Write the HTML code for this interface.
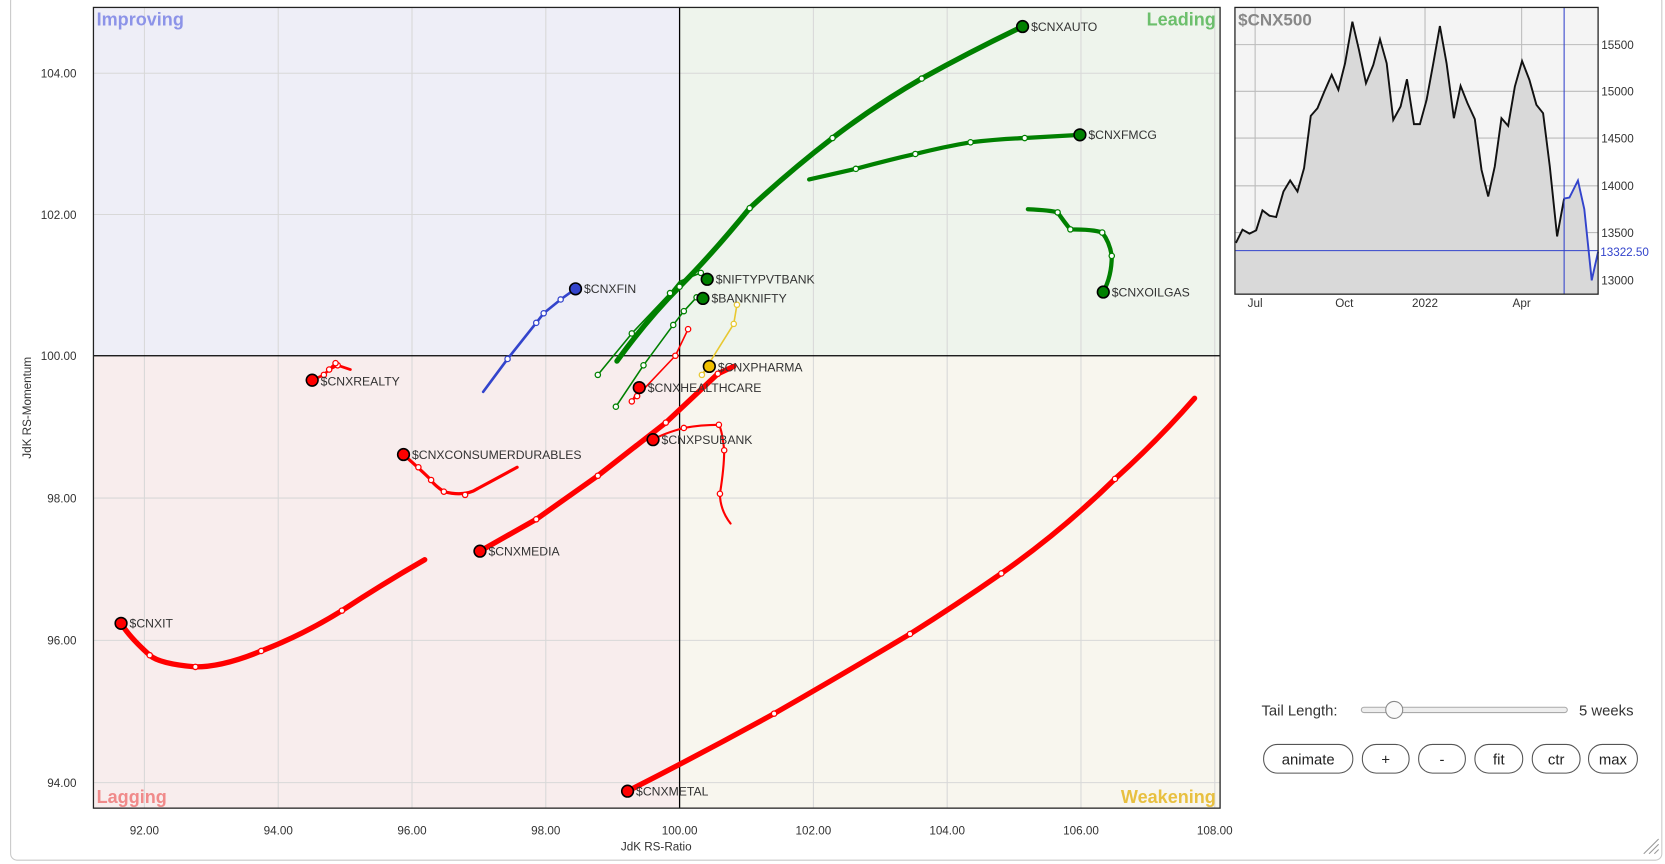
<!DOCTYPE html>
<html><head><meta charset="utf-8"><style>
html,body{margin:0;padding:0;background:#fff;}
svg{display:block;font-family:"Liberation Sans",Arial,sans-serif;}
</style></head><body>
<svg width="1665" height="864" viewBox="0 0 1568 813.6" preserveAspectRatio="none" xmlns="http://www.w3.org/2000/svg">
<rect x="10" y="-5" width="1555" height="815" rx="6" fill="#fff" stroke="#c8c8c8"/>
<!-- quadrants -->
<rect x="88" y="7" width="552" height="328" fill="#eeeef7"/>
<rect x="640" y="7" width="509" height="328" fill="#eef4ec"/>
<rect x="88" y="335" width="552" height="426" fill="#f8eded"/>
<rect x="640" y="335" width="509" height="426" fill="#f8f6ee"/>
<g stroke="#d8d8d8" stroke-width="1">
<line x1="136" y1="7" x2="136" y2="761"/><line x1="262" y1="7" x2="262" y2="761"/><line x1="388" y1="7" x2="388" y2="761"/><line x1="514" y1="7" x2="514" y2="761"/><line x1="766" y1="7" x2="766" y2="761"/><line x1="892" y1="7" x2="892" y2="761"/><line x1="1018" y1="7" x2="1018" y2="761"/><line x1="1144" y1="7" x2="1144" y2="761"/>
<line x1="88" y1="69" x2="1149" y2="69"/><line x1="88" y1="202" x2="1149" y2="202"/><line x1="88" y1="469" x2="1149" y2="469"/><line x1="88" y1="603" x2="1149" y2="603"/><line x1="88" y1="737" x2="1149" y2="737"/>
</g>
<line x1="640" y1="7" x2="640" y2="761" stroke="#000" stroke-width="1.2"/>
<line x1="88" y1="335" x2="1149" y2="335" stroke="#000" stroke-width="1.2"/>
<rect x="88" y="7" width="1061" height="754" fill="none" stroke="#222" stroke-width="1.2"/>
<g font-size="17" font-weight="bold">
<text x="91" y="24" fill="#8c93e8">Improving</text>
<text x="1145" y="24" fill="#6cbf6c" text-anchor="end">Leading</text>
<text x="91" y="756" fill="#f08a8a">Lagging</text>
<text x="1145" y="756" fill="#e8c040" text-anchor="end">Weakening</text>
</g>
<g font-size="11" fill="#333">
<text x="136" y="786" text-anchor="middle">92.00</text><text x="262" y="786" text-anchor="middle">94.00</text><text x="388" y="786" text-anchor="middle">96.00</text><text x="514" y="786" text-anchor="middle">98.00</text><text x="640" y="786" text-anchor="middle">100.00</text><text x="766" y="786" text-anchor="middle">102.00</text><text x="892" y="786" text-anchor="middle">104.00</text><text x="1018" y="786" text-anchor="middle">106.00</text><text x="1144" y="786" text-anchor="middle">108.00</text>
<text x="72" y="73" text-anchor="end">104.00</text><text x="72" y="206" text-anchor="end">102.00</text><text x="72" y="339" text-anchor="end">100.00</text><text x="72" y="473" text-anchor="end">98.00</text><text x="72" y="607" text-anchor="end">96.00</text><text x="72" y="741" text-anchor="end">94.00</text>
<text x="618" y="801" text-anchor="middle">JdK RS-Ratio</text>
<text transform="translate(29,384) rotate(-90)" text-anchor="middle">JdK RS-Momentum</text>
</g>
<g fill="none" stroke-linecap="round" stroke-linejoin="round">
<path d="M581,340 Q610,300 640,270 T706,196 Q745,160 784,130 T868,74 Q915,48 963,25" stroke="#008000" stroke-width="5"/>
<path d="M762,169 L806,159 Q835,151 862,145 Q890,138 914,134 Q940,131 965,130 L1017,127" stroke="#008000" stroke-width="4"/>
<path d="M968,197 Q990,198 996,200 Q1003,210 1008,216 Q1030,216 1038,219 Q1045,228 1047,241 Q1047,260 1039,275" stroke="#008000" stroke-width="4"/>
<path d="M563,353 L595,314 L631,276 L640,265 L660,257 L666,263" stroke="#008000" stroke-width="1.5"/>
<path d="M580,383 L606,344 L634,306 L644,293 L656,280 L662,281" stroke="#008000" stroke-width="1.5"/>
<path d="M648,310 L636,335 L600,373 L595,378 L602,365" stroke="#ff0000" stroke-width="1.5"/>
<path d="M694,287 L691,305 L661,353 L668,345" stroke="#e8c830" stroke-width="1.5"/>
<path d="M455,369 L478,338 L505,304 L512,295 L528,282 L542,272" stroke="#3344cc" stroke-width="2.5"/>
<path d="M330,348 L318,344 L310,348 L316,342 L305,353 L294,358" stroke="#ff0000" stroke-width="2.5"/>
<path d="M487,440 Q465,452 450,460 Q438,468 418,463 Q408,456 406,452 Q398,444 380,428" stroke="#ff0000" stroke-width="3"/>
<path d="M691,345 L676,352 L627,398 L563,448 L505,489 L452,519" stroke="#ff0000" stroke-width="5"/>
<path d="M688,493 Q678,480 678,465 Q682,440 682,424 Q680,405 677,400 Q660,400 644,403 Q625,408 615,414" stroke="#ff0000" stroke-width="2"/>
<path d="M400,527 Q360,550 322,575 Q285,598 246,613 Q210,628 184,628 Q150,625 141,617 Q122,600 114,587" stroke="#ff0000" stroke-width="5"/>
<path d="M1125,375 Q1090,415 1050,451 Q1000,500 943,540 Q900,570 857,597 Q790,637 729,672 Q660,710 591,745" stroke="#ff0000" stroke-width="5"/>
</g>
<g fill="#fff" stroke-width="1.2">
<g stroke="#008000"><circle cx="706" cy="196" r="2.5"/><circle cx="784" cy="130" r="2.5"/><circle cx="868" cy="74" r="2.5"/><circle cx="640" cy="270" r="2.5"/>
<circle cx="806" cy="159" r="2.5"/><circle cx="862" cy="145" r="2.5"/><circle cx="914" cy="134" r="2.5"/><circle cx="965" cy="130" r="2.5"/>
<circle cx="996" cy="200" r="2.5"/><circle cx="1008" cy="216" r="2.5"/><circle cx="1038" cy="219" r="2.5"/><circle cx="1047" cy="241" r="2.5"/>
<circle cx="563" cy="353" r="2.5"/><circle cx="595" cy="314" r="2.5"/><circle cx="631" cy="276" r="2.5"/><circle cx="660" cy="257" r="2.5"/>
<circle cx="580" cy="383" r="2.5"/><circle cx="606" cy="344" r="2.5"/><circle cx="634" cy="306" r="2.5"/><circle cx="644" cy="293" r="2.5"/><circle cx="656" cy="280" r="2.5"/></g>
<g stroke="#ff0000"><circle cx="648" cy="310" r="2.5"/><circle cx="636" cy="335" r="2.5"/><circle cx="600" cy="373" r="2.5"/><circle cx="595" cy="378" r="2.5"/>
<circle cx="318" cy="344" r="2.5"/><circle cx="310" cy="348" r="2.5"/><circle cx="316" cy="342" r="2.5"/><circle cx="305" cy="353" r="2.5"/>
<circle cx="418" cy="463" r="2.5"/><circle cx="438" cy="466" r="2.5"/><circle cx="406" cy="452" r="2.5"/><circle cx="394" cy="440" r="2.5"/>
<circle cx="676" cy="352" r="2.5"/><circle cx="627" cy="398" r="2.5"/><circle cx="563" cy="448" r="2.5"/><circle cx="505" cy="489" r="2.5"/>
<circle cx="678" cy="465" r="2.5"/><circle cx="682" cy="424" r="2.5"/><circle cx="677" cy="400" r="2.5"/><circle cx="644" cy="403" r="2.5"/>
<circle cx="322" cy="575" r="2.5"/><circle cx="246" cy="613" r="2.5"/><circle cx="184" cy="628" r="2.5"/><circle cx="141" cy="617" r="2.5"/>
<circle cx="1050" cy="451" r="2.5"/><circle cx="943" cy="540" r="2.5"/><circle cx="857" cy="597" r="2.5"/><circle cx="729" cy="672" r="2.5"/></g>
<g stroke="#e8c830"><circle cx="694" cy="287" r="2.5"/><circle cx="691" cy="305" r="2.5"/><circle cx="661" cy="353" r="2.5"/></g>
<g stroke="#3344cc"><circle cx="478" cy="338" r="2.5"/><circle cx="505" cy="304" r="2.5"/><circle cx="512" cy="295" r="2.5"/><circle cx="528" cy="282" r="2.5"/></g>
</g>
<g stroke="#000" stroke-width="1.5">
<circle cx="963" cy="25" r="5.5" fill="#008000"/><circle cx="1017" cy="127" r="5.5" fill="#008000"/><circle cx="1039" cy="275" r="5.5" fill="#008000"/>
<circle cx="666" cy="263" r="5.5" fill="#008000"/><circle cx="662" cy="281" r="5.5" fill="#008000"/>
<circle cx="542" cy="272" r="5.5" fill="#3344cc"/><circle cx="668" cy="345" r="5.5" fill="#f0c000"/>
<circle cx="602" cy="365" r="5.5" fill="#ff0000"/><circle cx="294" cy="358" r="5.5" fill="#ff0000"/><circle cx="380" cy="428" r="5.5" fill="#ff0000"/>
<circle cx="615" cy="414" r="5.5" fill="#ff0000"/><circle cx="452" cy="519" r="5.5" fill="#ff0000"/><circle cx="114" cy="587" r="5.5" fill="#ff0000"/><circle cx="591" cy="745" r="5.5" fill="#ff0000"/>
</g>
<g font-size="11.5" fill="#333">
<text x="971" y="29">$CNXAUTO</text><text x="1025" y="131">$CNXFMCG</text><text x="1047" y="279">$CNXOILGAS</text>
<text x="674" y="267">$NIFTYPVTBANK</text><text x="670" y="285">$BANKNIFTY</text><text x="550" y="276">$CNXFIN</text>
<text x="676" y="350">$CNXPHARMA</text><text x="610" y="369">$CNXHEALTHCARE</text><text x="302" y="363">$CNXREALTY</text>
<text x="388" y="432">$CNXCONSUMERDURABLES</text><text x="623" y="418">$CNXPSUBANK</text><text x="460" y="523">$CNXMEDIA</text>
<text x="122" y="591">$CNXIT</text><text x="599" y="749">$CNXMETAL</text>
</g>
<!-- mini chart -->
<rect x="1163" y="7" width="342" height="270" fill="#f4f4f4"/>
<g stroke="#bbb" stroke-width="1">
<line x1="1182" y1="7" x2="1182" y2="277"/><line x1="1266" y1="7" x2="1266" y2="277"/><line x1="1342" y1="7" x2="1342" y2="277"/><line x1="1433" y1="7" x2="1433" y2="277"/>
<line x1="1163" y1="42" x2="1505" y2="42"/><line x1="1163" y1="86" x2="1505" y2="86"/><line x1="1163" y1="130" x2="1505" y2="130"/><line x1="1163" y1="175" x2="1505" y2="175"/><line x1="1163" y1="219" x2="1505" y2="219"/><line x1="1163" y1="264" x2="1505" y2="264"/>
</g>
<path d="M1163.9,228.8 L1170.1,216.3 L1176.7,220 L1183,216.9 L1188.9,198.1 L1195.5,203.1 L1201.8,204.4 L1208.7,180.3 L1215,169.9 L1221.9,180.3 L1228.1,158.3 L1234.4,109.1 L1240.7,101.9 L1247.2,86.2 L1254.1,70.5 L1260.4,84.6 L1266.7,59.6 L1273.6,20.4 L1279.8,47 L1286.4,78.4 L1293.3,61.1 L1299.6,37 L1305.9,59.6 L1312.1,112.9 L1319,100.3 L1325,74.6 L1331.6,116.9 L1337.2,116.9 L1343.5,94 L1349.8,59.6 L1356,24.5 L1362.3,59.6 L1369.2,111.3 L1375.5,80.9 L1382,97.2 L1388.9,112.2 L1395.2,159.9 L1401.5,185 L1407.7,156.7 L1414,111.3 L1420.3,118.5 L1426.6,81.5 L1433.4,57.4 L1440.3,75.2 L1446.9,98.7 L1453.2,106.6 L1459.5,156.7 L1466.4,222.6 L1473,187 L1478,186 L1486,170 L1492,197 L1499,264 L1505,237 L1505,277 L1163,277 Z" fill="#d9d9d9"/>
<path d="M1163.9,228.8 L1170.1,216.3 L1176.7,220 L1183,216.9 L1188.9,198.1 L1195.5,203.1 L1201.8,204.4 L1208.7,180.3 L1215,169.9 L1221.9,180.3 L1228.1,158.3 L1234.4,109.1 L1240.7,101.9 L1247.2,86.2 L1254.1,70.5 L1260.4,84.6 L1266.7,59.6 L1273.6,20.4 L1279.8,47 L1286.4,78.4 L1293.3,61.1 L1299.6,37 L1305.9,59.6 L1312.1,112.9 L1319,100.3 L1325,74.6 L1331.6,116.9 L1337.2,116.9 L1343.5,94 L1349.8,59.6 L1356,24.5 L1362.3,59.6 L1369.2,111.3 L1375.5,80.9 L1382,97.2 L1388.9,112.2 L1395.2,159.9 L1401.5,185 L1407.7,156.7 L1414,111.3 L1420.3,118.5 L1426.6,81.5 L1433.4,57.4 L1440.3,75.2 L1446.9,98.7 L1453.2,106.6 L1459.5,156.7 L1466.4,222.6 L1473,187" fill="none" stroke="#111" stroke-width="1.8"/>
<path d="M1473,187 L1478,186 L1486,170 L1492,197 L1499,264 L1505,237" fill="none" stroke="#3344cc" stroke-width="1.8"/>
<line x1="1163" y1="236" x2="1505" y2="236" stroke="#3344cc" stroke-width="1"/>
<line x1="1473" y1="7" x2="1473" y2="277" stroke="#3344cc" stroke-width="1"/>
<rect x="1163" y="7" width="342" height="270" fill="none" stroke="#222" stroke-width="1.2"/>
<text x="1166" y="24" font-size="16" font-weight="bold" fill="#888">$CNX500</text>
<g font-size="11" fill="#333">
<text x="1508" y="46">15500</text><text x="1508" y="90">15000</text><text x="1508" y="134">14500</text><text x="1508" y="179">14000</text><text x="1508" y="223">13500</text><text x="1508" y="268">13000</text>
<text x="1507" y="241" fill="#3344cc">13322.50</text>
<text x="1182" y="289" text-anchor="middle">Jul</text><text x="1266" y="289" text-anchor="middle">Oct</text><text x="1342" y="289" text-anchor="middle">2022</text><text x="1433" y="289" text-anchor="middle">Apr</text>
</g>
<!-- controls -->
<text x="1188" y="674" font-size="14" fill="#333">Tail Length:</text>
<rect x="1282" y="666" width="194" height="5" rx="2.5" fill="#eee" stroke="#aaa"/>
<circle cx="1313" cy="668.5" r="8" fill="#fafafa" stroke="#888"/>
<text x="1487" y="674" font-size="14" fill="#333">5 weeks</text>
<g fill="#fff" stroke="#555" stroke-width="1">
<rect x="1190" y="701" width="84" height="27" rx="13"/><rect x="1283" y="701" width="44" height="27" rx="13"/><rect x="1336" y="701" width="44" height="27" rx="13"/><rect x="1389" y="701" width="45" height="27" rx="13"/><rect x="1443" y="701" width="45" height="27" rx="13"/><rect x="1496" y="701" width="46" height="27" rx="13"/>
</g>
<g font-size="14" fill="#222" text-anchor="middle">
<text x="1232" y="720">animate</text><text x="1305" y="720">+</text><text x="1358" y="720">-</text><text x="1411.5" y="720">fit</text><text x="1465.5" y="720">ctr</text><text x="1519" y="720">max</text>
</g>
<g stroke="#999" stroke-width="1"><line x1="1548" y1="804" x2="1562" y2="790"/><line x1="1553" y1="804" x2="1562" y2="795"/><line x1="1558" y1="804" x2="1562" y2="800"/></g>
</svg>
</body></html>
